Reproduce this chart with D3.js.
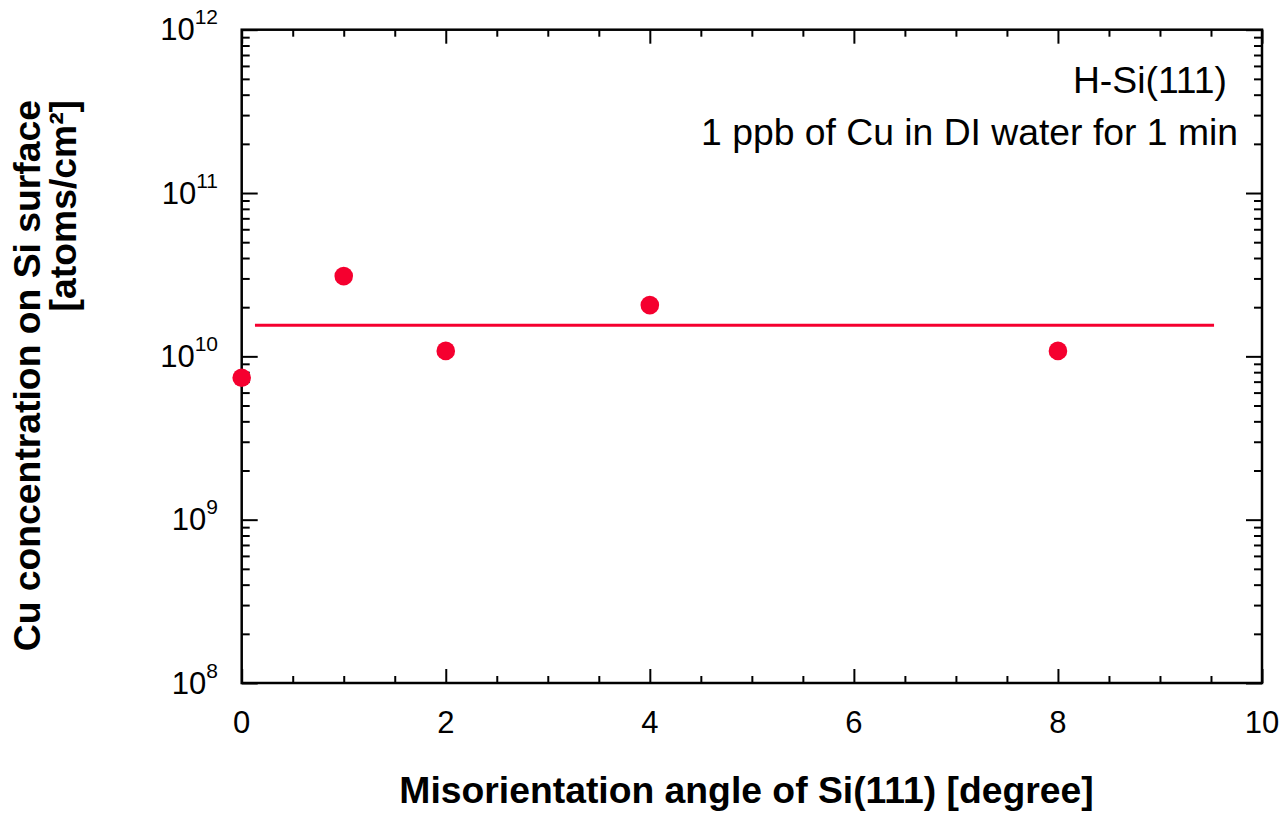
<!DOCTYPE html>
<html>
<head>
<meta charset="utf-8">
<script src="https://cdn.jsdelivr.net/npm/d3@7/dist/d3.min.js"></script>
<style>
  html, body { margin: 0; padding: 0; background: #fff; }
  svg { display: block; font-family: "Liberation Sans", Arial, Helvetica, sans-serif; }
</style>
</head>
<body>
<svg id="chart" width="1281" height="837"></svg>
<script>
// Measured Cu concentration vs. misorientation angle
const angles = [0, 1, 2, 4, 8];
const cuConc = [7.4e9, 3.1e10, 1.08e10, 2.06e10, 1.08e10];
// Mean level drawn as a horizontal line
const meanLevel = 1.55e10;
const meanSpan = [0.13, 9.53];

const xTickLabels = [0, 2, 4, 6, 8, 10];
const xMinorTicks = d3.range(0, 10.01, 0.5);
const yDecadeExps = [8, 9, 10, 11, 12];

const annotationLines = ["H-Si(111)", "1 ppb of Cu in DI water for 1 min"];
const xTitle = "Misorientation angle of Si(111) [degree]";
const yTitleLines = ["Cu concentration on Si surface", "[atoms/cm\u00B2]"];

const red = "#f5002f";
const plot = { left: 241.7, right: 1262, top: 29.7, bottom: 683 };

const svg = d3.select("#chart");

const x = d3.scaleLinear().domain([0, 10]).range([plot.left, plot.right]);
const y = d3.scaleLog().domain([1e8, 1e12]).range([plot.bottom, plot.top]);

const yMajor = yDecadeExps.map(e => Math.pow(10, e));
const yMinor = [];
for (let e = 8; e < 12; e++) for (let m = 2; m <= 9; m++) yMinor.push(m * Math.pow(10, e));

function styleAxis(g) {
  g.select(".domain").remove();
  g.selectAll(".tick line").attr("stroke", "#000").attr("stroke-width", 2);
  g.selectAll(".tick text").remove();
}

// Tick marks on all four sides, pointing inward
const xMaj = xTickLabels;
const xMin = xMinorTicks.filter(v => xMaj.indexOf(v) < 0);
svg.append("g").attr("transform", `translate(0,${plot.bottom})`)
  .call(d3.axisBottom(x).tickValues(xMin).tickSize(-7)).call(styleAxis);
svg.append("g").attr("transform", `translate(0,${plot.bottom})`)
  .call(d3.axisBottom(x).tickValues(xMaj).tickSize(-14)).call(styleAxis);
svg.append("g").attr("transform", `translate(0,${plot.top})`)
  .call(d3.axisTop(x).tickValues(xMin).tickSize(-7)).call(styleAxis);
svg.append("g").attr("transform", `translate(0,${plot.top})`)
  .call(d3.axisTop(x).tickValues(xMaj).tickSize(-14)).call(styleAxis);

svg.append("g").attr("transform", `translate(${plot.left},0)`)
  .call(d3.axisLeft(y).tickValues(yMinor).tickSize(-8)).call(styleAxis);
svg.append("g").attr("transform", `translate(${plot.left},0)`)
  .call(d3.axisLeft(y).tickValues(yMajor).tickSize(-16)).call(styleAxis);
svg.append("g").attr("transform", `translate(${plot.right},0)`)
  .call(d3.axisRight(y).tickValues(yMinor).tickSize(-8)).call(styleAxis);
svg.append("g").attr("transform", `translate(${plot.right},0)`)
  .call(d3.axisRight(y).tickValues(yMajor).tickSize(-16)).call(styleAxis);

// Frame
svg.append("rect")
  .attr("x", plot.left).attr("y", plot.top)
  .attr("width", plot.right - plot.left).attr("height", plot.bottom - plot.top)
  .attr("fill", "none").attr("stroke", "#000").attr("stroke-width", 2.5);

// X tick labels
svg.append("g").selectAll("text").data(xTickLabels).join("text")
  .attr("x", d => x(d)).attr("y", plot.bottom + 50)
  .attr("text-anchor", "middle").attr("font-size", 31)
  .text(d => d);

// Y tick labels: 10 with superscript exponent
const yl = svg.append("g").selectAll("text").data(yDecadeExps).join("text")
  .attr("x", 218).attr("y", d => y(Math.pow(10, d)) + 10.5)
  .attr("text-anchor", "end").attr("font-size", 31);
yl.append("tspan").text("10");
yl.append("tspan").attr("font-size", 21).attr("dy", -16).text(d => d);

// Mean line
svg.append("line")
  .attr("x1", x(meanSpan[0])).attr("x2", x(meanSpan[1]))
  .attr("y1", y(meanLevel)).attr("y2", y(meanLevel))
  .attr("stroke", red).attr("stroke-width", 3);

// Data points
svg.append("g").selectAll("circle").data(angles).join("circle")
  .attr("cx", d => x(d)).attr("cy", (d, i) => y(cuConc[i]))
  .attr("r", 9.3).attr("fill", red);

// Annotation
svg.append("text").attr("x", 1227).attr("y", 93)
  .attr("text-anchor", "end").attr("font-size", 37.3).text(annotationLines[0]);
svg.append("text").attr("x", 1238).attr("y", 145)
  .attr("text-anchor", "end").attr("font-size", 37.3).text(annotationLines[1]);

// Axis titles
svg.append("text").attr("x", 746.5).attr("y", 803)
  .attr("text-anchor", "middle").attr("font-size", 37.3).attr("font-weight", "bold")
  .text(xTitle);

svg.append("text").attr("transform", "translate(40,100) rotate(-90)")
  .attr("text-anchor", "end").attr("font-size", 37.3).attr("font-weight", "bold")
  .text(yTitleLines[0]);
svg.append("text").attr("transform", "translate(76,100) rotate(-90)")
  .attr("text-anchor", "end").attr("font-size", 37.3).attr("font-weight", "bold")
  .text(yTitleLines[1]);
</script>
</body>
</html>
